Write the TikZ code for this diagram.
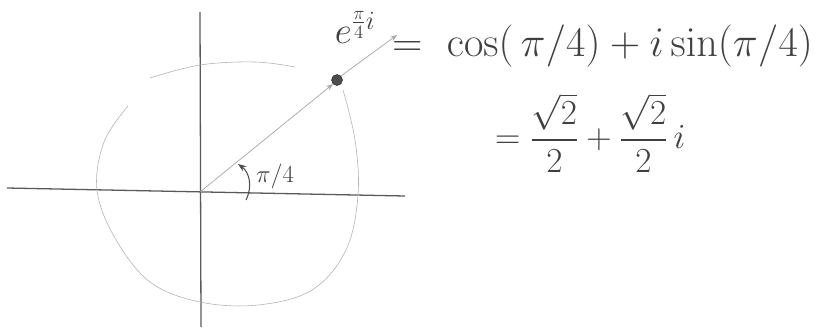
\documentclass[tikz,border=0pt]{standalone}
\usepackage{fix-cm}
\usepackage{amsmath}
\usetikzlibrary{arrows.meta, positioning}

\begin{document}
\begin{tikzpicture}[
    x=0.03cm, y=-0.03cm,
    >=Stealth,
    % Styles
    axis/.style={draw=black!65, line width=1.1pt},
    unitcirc/.style={draw=black!30, line width=0.5pt},
    ray/.style={->, draw=black!35, line width=0.6pt},
    dot/.style={circle, fill=black!70, draw=black!85, inner sep=0pt, minimum size=0.33cm},
    anglearrow/.style={->, draw=black!70, line width=0.9pt},
    hand/.style={text=black!75, inner sep=0pt},
]
\useasboundingbox (0,0) rectangle (836,329);

% -- axes --
\coordinate (O) at (200,192);
\coordinate (xl) at (7,188);
\coordinate (xr) at (405,196);
\coordinate (yt) at (200,12);
\coordinate (yb) at (201,327);
\draw[axis] (xl) -- (xr);
\draw[axis] (yt) -- (yb);

% -- circle, drawn by hand --
\draw[unitcirc] plot[smooth, tension=0.6] coordinates {(343,90) (355,140) (358,195) (346,250) (312,290) (258,305) (200,302) (150,282) (115,238) (97,190) (104,142) (128,106)};
\draw[unitcirc] plot[smooth, tension=0.6] coordinates {(150,78) (200,65) (255,62) (295,67)};

% -- the point and its ray --
\node[dot] (pt) at (337,80) {};
\coordinate (tip) at (397,35);
\draw[ray] (O) -- (pt.south west);
\draw[ray] (pt.north east) -- (tip);

% -- angle --
\coordinate (arcfoot) at (246,200);
\coordinate (arctop) at (238,164);
\draw[anglearrow] (arcfoot) .. controls (253,186) and (249,172) .. (arctop);
\node[hand, font=\fontsize{21}{24}\selectfont] (angle) at (275,176) {$\pi/4$};

% -- formulas --
\node[hand, font=\fontsize{32}{36}\selectfont] (expo) at (355,27) {$e^{\frac{\pi}{4}i}$};
\node[hand, font=\fontsize{36}{40}\selectfont, anchor=west] (line1) at (392,46) {$=\ \cos(\,\pi/4) + i\sin(\pi/4)$};
\node[hand, font=\fontsize{30}{34}\selectfont, anchor=west] (line2) at (495,133) {$=\dfrac{\sqrt{2}}{2}+\dfrac{\sqrt{2}}{2}\,i$};

\end{tikzpicture}
\end{document}
